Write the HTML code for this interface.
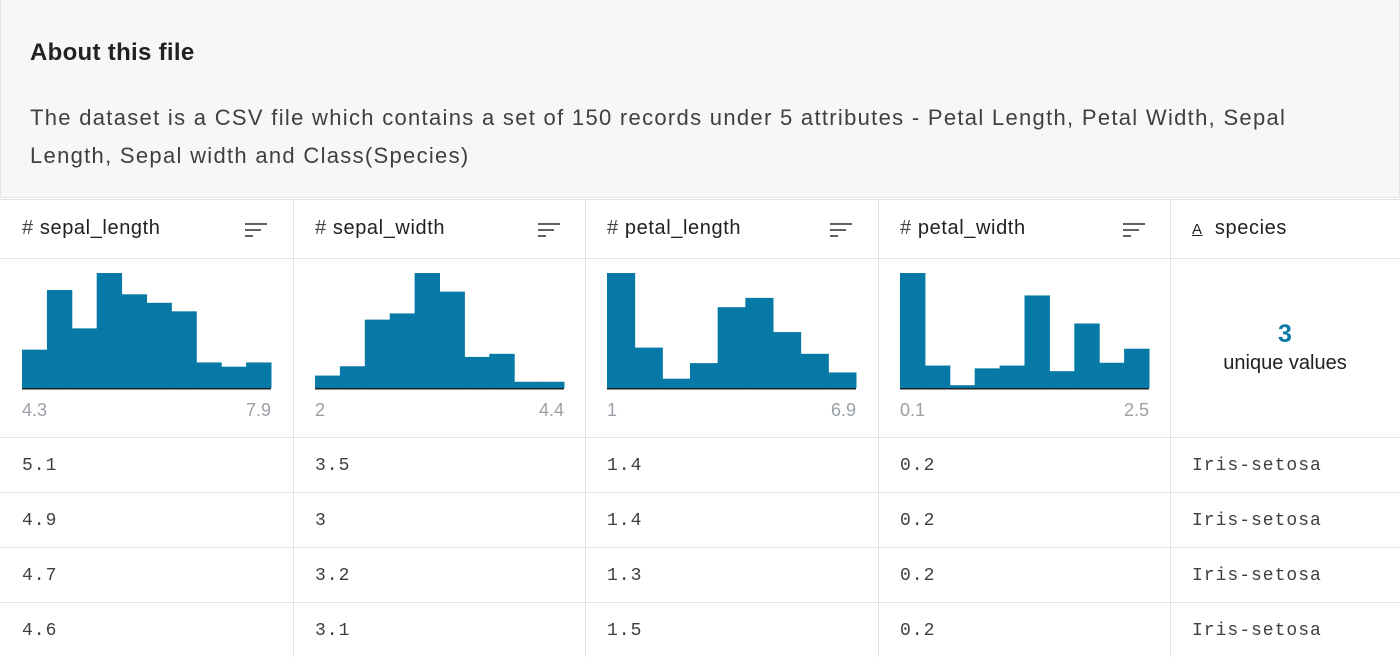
<!DOCTYPE html>
<html><head><meta charset="utf-8">
<style>
body{margin:0;width:1400px;height:657px;overflow:hidden;background:#fff;font-family:"Liberation Sans",sans-serif;color:#202124;position:relative}
.about{position:absolute;left:0;top:0;width:1398px;height:197px;background:#f7f7f7;border:1px solid #e6e6e6;border-top:none}
.about h2{position:absolute;left:29px;top:39px;margin:0;font-size:24px;font-weight:bold;letter-spacing:0.3px;color:#202124}
.about p{position:absolute;left:29px;top:99px;margin:0;width:1300px;font-size:22px;letter-spacing:1.3px;line-height:38px;color:#3c4043}
.vl{position:absolute;top:199px;height:458px;width:1px;background:#e3e3e3}
.hl{position:absolute;left:0;width:1400px;height:1px;background:#e3e3e3}
.hdr{position:absolute;top:217px;font-size:20px;letter-spacing:0.6px;color:#202124}
.sort{position:absolute;top:222px;width:22px;height:16px}
.cell{position:absolute;font-family:"Liberation Mono",monospace;font-size:18px;color:#3c4043;letter-spacing:1px}
.lbl{position:absolute;top:400px;font-size:18px;color:#9aa0a6}
</style></head><body>
<div class="about">
<h2>About this file</h2>
<p>The dataset is a CSV file which contains a set of 150 records under 5 attributes - Petal Length, Petal Width, Sepal Length, Sepal width and Class(Species)</p>
</div>
<div id="grid"></div>
<div style="position:absolute;left:1170px;top:320px;width:230px;text-align:center">
<div style="font-size:25px;font-weight:bold;color:#0a7aa8">3</div>
<div style="font-size:20px;color:#202124;margin-top:3px">unique values</div>
</div>
<script>
const colNames=["sepal_length","sepal_width","petal_length","petal_width","species"];
const sepalLengthCounts=[9,23,14,27,22,20,18,6,5,6];
const sepalWidthCounts=[4,7,22,24,37,31,10,11,2,2];
const petalLengthCounts=[37,13,3,8,26,29,18,11,5];
const petalWidthCounts=[41,8,1,7,8,33,6,23,9,14];
const minLabels=["4.3","2","1","0.1"];
const maxLabels=["7.9","4.4","6.9","2.5"];
const rows=[["5.1","3.5","1.4","0.2","Iris-setosa"],["4.9","3","1.4","0.2","Iris-setosa"],["4.7","3.2","1.3","0.2","Iris-setosa"],["4.6","3.1","1.5","0.2","Iris-setosa"]];
const hists=[sepalLengthCounts,sepalWidthCounts,petalLengthCounts,petalWidthCounts];
const colX=[0,293,585,878,1170,1400];
const g=document.getElementById('grid');
const ns="http://www.w3.org/2000/svg";
[199,258,437,492,547,602].forEach((y,i)=>{
  const d=document.createElement('div');d.className='hl';d.style.top=y+'px';
  
  
  g.appendChild(d);
});
colX.slice(1,5).forEach(x=>{
  const d=document.createElement('div');d.className='vl';d.style.left=x+'px';
  
  
  g.appendChild(d);
});
colNames.forEach((n,i)=>{
  const h=document.createElement('div');h.className='hdr';h.style.left=(colX[i]+22)+'px';
  h.innerHTML=(i<4?'<span style="color:#444">#</span>&nbsp;':'<span style="text-decoration:underline;font-size:15px">A</span>&nbsp;&nbsp;')+n;
  
  
  g.appendChild(h);
  if(i<4){
    const s=document.createElement('div');s.className='sort';s.style.left=(colX[i]+245)+'px';
    s.innerHTML='<svg width="22" height="16"><rect x="0" y="1" width="22" height="2" fill="#5f6368"/><rect x="0" y="7" width="16" height="2" fill="#5f6368"/><rect x="0" y="13" width="8" height="2" fill="#5f6368"/></svg>';
    
    
    g.appendChild(s);
  }
});
hists.forEach((counts,i)=>{
  const x0=colX[i]+22, w=249, base=388, hMax=115;
  const mx=Math.max(...counts);
  const svg=document.createElementNS(ns,'svg');
  svg.setAttribute('width',w+2);svg.setAttribute('height',130);
  svg.style.position='absolute';svg.style.left=x0+'px';svg.style.top=(base-120)+'px';
  
  
  const bw=w/counts.length;
  const yS=v=>120-v/mx*hMax;
  counts.forEach((c,j)=>{
    const r=document.createElementNS(ns,'rect');
    r.setAttribute('x',j*bw);r.setAttribute('width',bw+0.5);
    r.setAttribute('y',yS(c));r.setAttribute('height',120-yS(c));
    r.setAttribute('fill','#0779a6');
    
    
    svg.appendChild(r);
  });
  const l=document.createElementNS(ns,'rect');
  l.setAttribute('x',0);l.setAttribute('y',120);l.setAttribute('width',w);l.setAttribute('height',1.5);l.setAttribute('fill','#202124');
  
  
  svg.appendChild(l);
  g.appendChild(svg);
  const a=document.createElement('div');a.className='lbl';a.style.left=x0+'px';a.textContent=minLabels[i];
  
  
  g.appendChild(a);
  const b=document.createElement('div');b.className='lbl';b.style.left=(x0+w-60)+'px';b.style.width='60px';b.style.textAlign='right';b.textContent=maxLabels[i];
  
  
  g.appendChild(b);
});
rows.forEach((r,ri)=>{
  r.forEach((v,ci)=>{
    const c=document.createElement('div');c.className='cell';
    c.style.left=(colX[ci]+22)+'px';c.style.top=(456+ri*55)+'px';c.textContent=v;
    
    
    g.appendChild(c);
  });
});
</script>
</body></html>
